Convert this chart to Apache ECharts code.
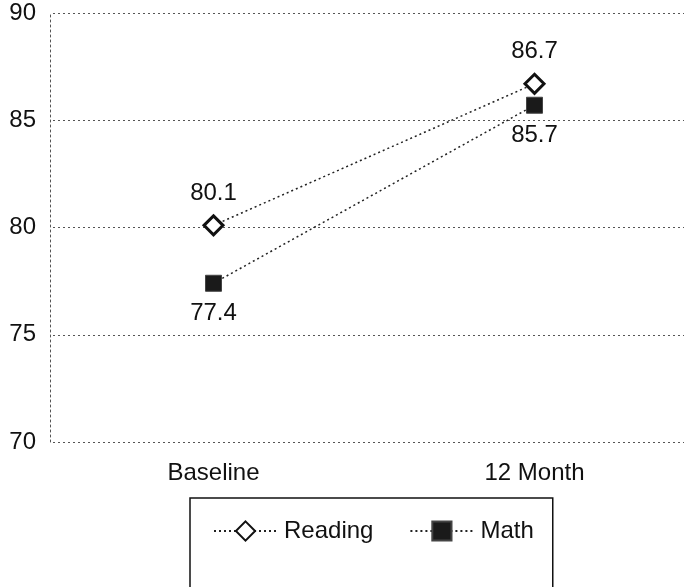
<!DOCTYPE html>
<html>
<head>
<meta charset="utf-8">
<script src="https://cdn.jsdelivr.net/npm/echarts@6/dist/echarts.min.js"></script>
<style>
  html, body { margin: 0; padding: 0; background: #fff; }
  #chart { width: 684px; height: 587px; }
</style>
</head>
<body>
<div id="chart"></div>
<script>
// Test-score averages at baseline and after 12 months
const categories = ['Baseline', '12 Month'];
const readingScores = [80.1, 86.7];
const mathScores = [77.4, 85.7];
const yTicks = { min: 70, max: 90, step: 5 };

const FONT = 'Liberation Sans, Arial, Helvetica, sans-serif';
const chart = echarts.init(document.getElementById('chart'), null, { renderer: 'canvas' });

chart.setOption({
  backgroundColor: '#ffffff',
  animation: false,
  grid: {
    left: 53, top: 13, width: 642, height: 429,
    containLabel: false,
    outerBoundsMode: 'none'
  },
  xAxis: {
    type: 'category',
    data: categories,
    boundaryGap: true,
    axisLine: { show: false },
    axisTick: { show: false },
    axisLabel: { color: '#111', fontSize: 24, fontFamily: FONT, margin: 19 }
  },
  yAxis: {
    type: 'value',
    min: yTicks.min,
    max: yTicks.max,
    interval: yTicks.step,
    offset: 3,
    axisLine: { show: true, lineStyle: { color: '#555', width: 1, type: [2, 3] } },
    axisTick: { show: false },
    axisLabel: { color: '#111', fontSize: 24, fontFamily: FONT, margin: 14 },
    splitLine: { show: true, lineStyle: { color: '#555', width: 1, type: [2, 3] } }
  },
  legend: {
    left: 190,
    top: 498,
    orient: 'horizontal',
    padding: [21, 19, 60, 23],
    itemGap: 36,
    itemWidth: 63,
    itemHeight: 24,
    borderColor: '#111',
    borderWidth: 1.5,
    borderRadius: 0,
    textStyle: { color: '#111', fontSize: 24, fontFamily: FONT, padding: [2, 0, 0, 2] },
    data: ['Reading', 'Math']
  },
  series: [
    {
      name: 'Reading',
      type: 'line',
      data: readingScores,
      symbol: 'diamond',
      symbolSize: 19,
      lineStyle: { color: '#222', width: 1.5, type: [2, 3] },
      itemStyle: { color: '#ffffff', borderColor: '#111', borderWidth: 3 },
      label: {
        show: true,
        position: 'top',
        distance: 9,
        color: '#111',
        fontSize: 24,
        fontFamily: FONT
      },
      z: 3
    },
    {
      name: 'Math',
      type: 'line',
      data: mathScores,
      symbol: 'rect',
      symbolSize: 16,
      lineStyle: { color: '#222', width: 1.5, type: [2, 3] },
      itemStyle: { color: '#1a1a1a', borderColor: '#444', borderWidth: 1 },
      label: {
        show: true,
        position: 'bottom',
        distance: 10,
        color: '#111',
        fontSize: 24,
        fontFamily: FONT
      },
      z: 2
    }
  ]
});
</script>
</body>
</html>
